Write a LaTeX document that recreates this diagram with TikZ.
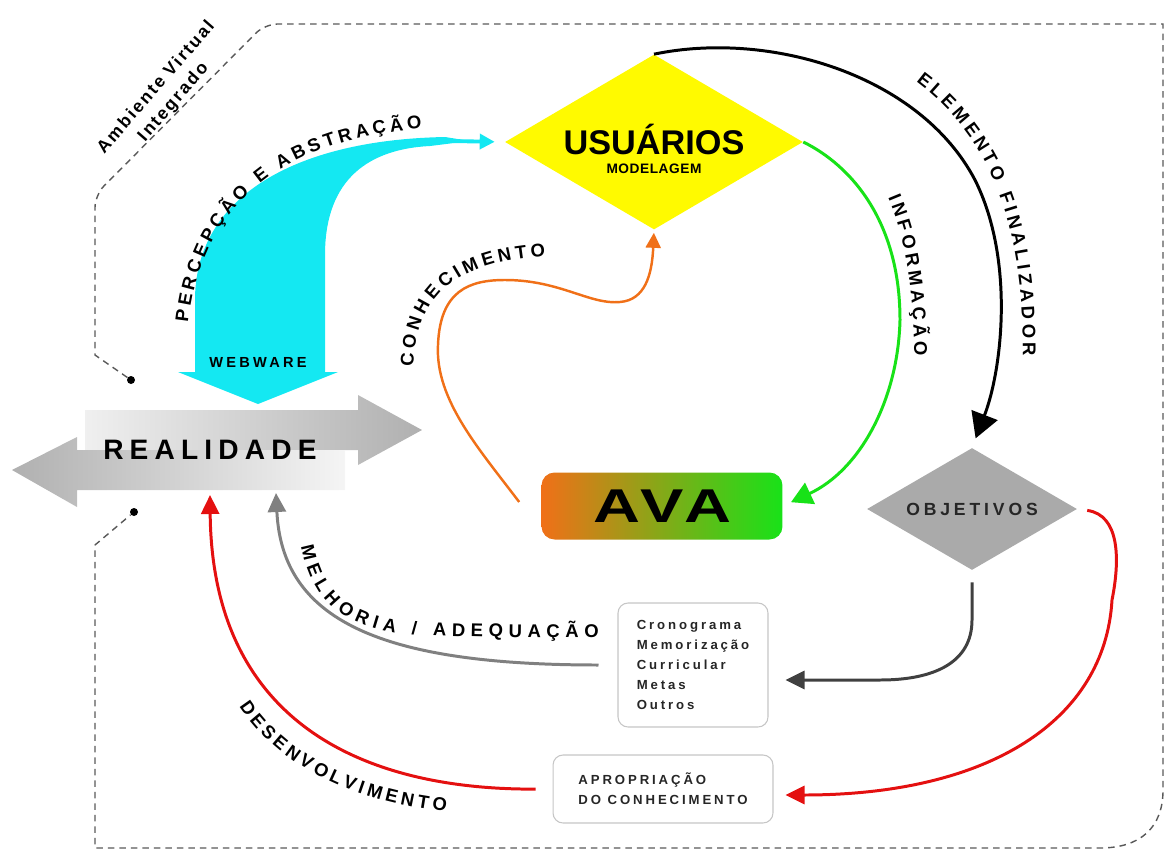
\documentclass[tikz,border=0pt]{standalone}
\usepackage{fontspec}
\setmainfont{Liberation Sans}
\newfontfamily\spcfont[LetterSpace=22]{Liberation Sans}
\usepackage{tikz}
\usetikzlibrary{shapes.geometric, arrows.meta, positioning, calc, decorations.text}

\definecolor{ciano}{RGB}{20,232,242}
\definecolor{amarelo}{RGB}{255,250,0}
\definecolor{laranja}{RGB}{240,112,24}
\definecolor{verde}{RGB}{24,226,24}
\definecolor{vermelho}{RGB}{228,16,16}
\definecolor{cinza}{RGB}{170,170,170}
\definecolor{escuro}{RGB}{64,64,64}

\newcommand{\pathfont}{\bfseries\fontsize{10.5}{12}\selectfont\kern2.2pt}
\newcommand{\widefont}{\bfseries\fontsize{10.5}{12}\selectfont\kern3.2pt}
\newcommand{\boxfont}{\spcfont\bfseries\fontsize{7.5}{11.4}\selectfont}

\begin{document}
\begin{tikzpicture}[x=0.02cm, y=0.02cm,
    diam/.style={diamond, inner sep=0pt, aspect=1.7},
    flow/.style={line width=1.7pt, -{Triangle[length=0.38cm, width=0.36cm]}},
    listbox/.style={draw=gray!45, line width=0.6pt, rounded corners=0.2cm, fill=white, align=left, text=black!85, font=\boxfont},
    txtpath/.style={decorate, decoration={text along path, text align=center, text={#1}}},
    dot/.style={circle, fill=black, inner sep=0pt, minimum size=0.16cm},
    border/.style={dash pattern=on 0.13cm off 0.1cm, line width=0.8pt, black!65}
]
\useasboundingbox (0,0) rectangle (1169,-852);

% moldura do ambiente
\node[dot] (dotA) at (131,-380) {};
\node[dot] (dotB) at (134,-512) {};
\draw[border] (dotA) -- (95,-355) [rounded corners=0.25cm] -- (95,-195) -- (265,-24) [sharp corners] -- (1163,-24) -- (1163,-790) .. controls (1163,-828) and (1140,-848) .. (1100,-848) -- (95,-848) -- (95,-545) -- (dotB);
\node[rotate=49, align=center, font=\bfseries\addfontfeature{LetterSpace=12}\fontsize{10}{13}\selectfont] (amb) at (165,-95) {Ambiente Virtual\\Integrado};

% realidade
\shade[left color=gray!12, right color=gray!62] (85,-410) -- (358,-410) -- (358,-395) -- (422,-430) -- (358,-465) -- (358,-450) -- (85,-450) -- cycle;
\shade[left color=gray!62, right color=gray!8] (345,-450) -- (77,-450) -- (77,-437) -- (12,-470) -- (77,-507) -- (77,-490) -- (345,-490) -- cycle;
\node[font=\spcfont\bfseries\fontsize{16}{16}\selectfont] (real) at (210,-450) {REALIDADE};
\coordinate (realR) at (210,-495);
\coordinate (realM) at (276,-493);

% nos principais
\node[diam, fill=amarelo, minimum width=5.96cm, minimum height=3.5cm, font=\bfseries\fontsize{19.5}{20}\selectfont] (usu) at (654,-142) {\raisebox{0.12cm}{USUÁRIOS}};
\node[font=\bfseries\addfontfeature{LetterSpace=4}\fontsize{7.8}{8}\selectfont] (mod) at (654,-169) {MODELAGEM};
\node[diam, fill=cinza, minimum width=4.2cm, minimum height=2.44cm, font=\spcfont\bfseries\fontsize{10}{12}\selectfont, text=black!85] (obj) at (972,-509) {OBJETIVOS};
\node[rounded corners=0.26cm, left color=laranja, right color=verde, minimum width=4.82cm, minimum height=1.34cm, font=\bfseries\addfontfeature{LetterSpace=8}\fontsize{27}{27}\selectfont] (ava) at (662,-506) {\scalebox{1.37}[1]{AVA}};
\node[listbox, minimum width=3cm, minimum height=2.48cm] (lista) at (693,-665) {Cronograma\\Memorização\\Curricular\\Metas\\Outros};
\node[listbox, minimum width=4.4cm, minimum height=1.36cm] (apro) at (663,-789) {APROPRIAÇÃO\\DO CONHECIMENTO};

% percepcao e abstracao
\fill[ciano] (178,-372) -- (195,-372) -- (195,-300) .. controls (195,-200) and (290,-140) .. (445,-137) -- (470,-141) -- (430,-146) .. controls (370,-149) and (325,-178) .. (325,-255) -- (325,-372) -- (338,-372) -- (258,-404) -- cycle;
\coordinate (cyantail) at (450,-141);
\draw[ciano, line width=2.2pt, -{Triangle[length=0.3cm, width=0.3cm]}, shorten >=0.2cm] (cyantail) -- (usu.west);
\node[font=\spcfont\bfseries\fontsize{8.3}{9}\selectfont] (web) at (258,-362) {WEBWARE};
\path[txtpath={|\pathfont|PERCEPÇÃO E ABSTRAÇÃO}] (186,-360) .. controls (186,-200) and (290,-130) .. (455,-127);

% conectores
\draw[flow, line width=1.7pt, -{Triangle[length=0.5cm, width=0.55cm]}, shorten >=0.2cm] (usu.north) .. controls (770,-30) and (920,-75) .. (975,-180) .. controls (1015,-260) and (1002,-370) .. (obj.north);
\path[txtpath={|\pathfont|ELEMENTO FINALIZADOR}] (884,-60) .. controls (985,-118) and (1030,-215) .. (1022,-390);

\draw[flow, verde, -{Triangle[length=0.42cm, width=0.46cm]}, shorten >=0.18cm] (usu.east) .. controls (850,-165) and (900,-220) .. (900,-320) .. controls (898,-400) and (860,-470) .. (ava.east);
\path[txtpath={|\pathfont|INFORMAÇÃO}] (876,-172) .. controls (905,-225) and (916,-290) .. (914,-380);

\draw[flow, laranja, line width=1.4pt, -{Triangle[length=0.3cm, width=0.3cm]}, shorten >=0.06cm] ($(ava.west)+(-22,4)$) .. controls (480,-450) and (435,-400) .. (438,-345) .. controls (440,-290) and (470,-280) .. (505,-280) .. controls (560,-280) and (590,-305) .. (620,-302) .. controls (645,-300) and (652,-275) .. (usu.south);
\path[txtpath={|\pathfont|CONHECIMENTO}] (414,-385) .. controls (408,-300) and (450,-258) .. (560,-256);

\draw[flow, escuro, shorten <=0.24cm, shorten >=0.34cm] (obj.south) -- (972,-620) .. controls (972,-662) and (935,-680) .. (880,-680) -- ($(lista.east)+(0,-15)$);
\draw[flow, vermelho, shorten <=0.2cm, shorten >=0.24cm] (obj.east) .. controls (1120,-515) and (1120,-560) .. (1112,-600) .. controls (1105,-720) and (990,-795) .. ($(apro.east)+(0,-6)$);

\draw[flow, gray, shorten <=0.38cm] (lista.west) .. controls (380,-665) and (282,-620) .. (realM);
\path[txtpath={|\widefont|MELHORIA / ADEQUAÇÃO}] (296,-505) .. controls (300,-590) and (330,-630) .. (420,-635) .. controls (500,-638) and (580,-638) .. (635,-638);

\draw[flow, vermelho, shorten <=0.34cm] (apro.west) .. controls (360,-790) and (212,-720) .. (realR);
\path[txtpath={|\pathfont|DESENVOLVIMENTO}] (222,-675) .. controls (258,-760) and (350,-808) .. (478,-814);

\end{tikzpicture}
\end{document}
